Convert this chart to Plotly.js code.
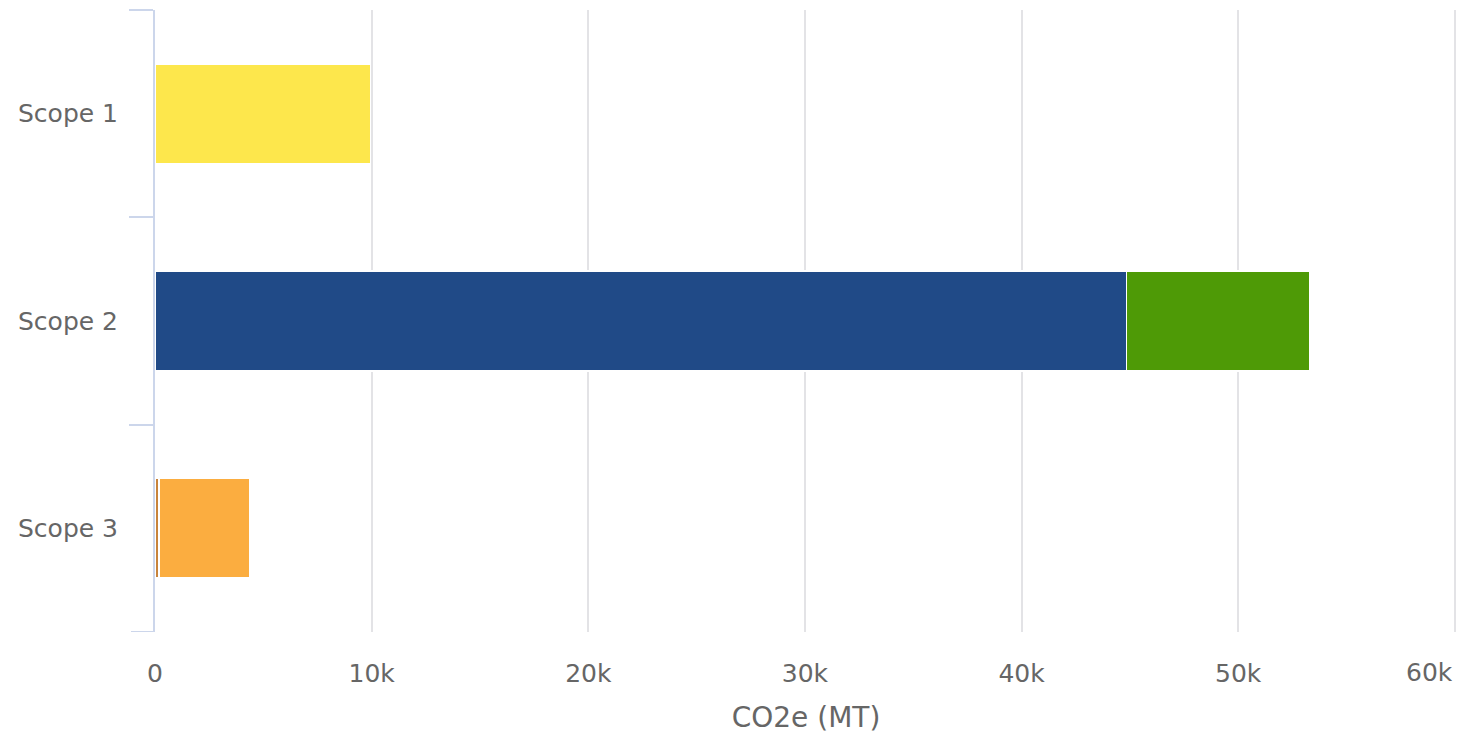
<!DOCTYPE html>
<html>
<head>
<meta charset="utf-8">
<script src="https://cdn.plot.ly/plotly-3.0.1.min.js"></script>
<style>html,body{margin:0;padding:0;background:#fff;}#chart{width:1473px;height:736px;}</style>
</head>
<body>
<div id="chart"></div>
<script>
const categories = ['Scope 1', 'Scope 2', 'Scope 3'];
const scope1Values = [9940, null, null];
const scope2BlueValues = [null, 44850, null];
const scope2GreenValues = [null, 8470, null];
const scope3BrownValues = [null, null, 190];
const scope3OrangeValues = [null, null, 4200];
const xTickVals = [0, 10000, 20000, 30000, 40000, 50000, 60000];
const xTickText = ['0', '10k', '20k', '30k', '40k', '50k', '60k'];

const line = {color: '#ffffff', width: 1.5};
function series(name, vals, color) {
  return {type: 'bar', orientation: 'h', name: name, y: categories, x: vals,
    marker: {color: color, line: line}, hoverinfo: 'x+y'};
}
const data = [
  series('Scope 1', scope1Values, '#fde74c'),
  series('Scope 2 (blue)', scope2BlueValues, '#204a87'),
  series('Scope 2 (green)', scope2GreenValues, '#4e9a06'),
  series('Scope 3 (brown)', scope3BrownValues, '#c8843c'),
  series('Scope 3 (orange)', scope3OrangeValues, '#fbad40')
];
const lastIdx = xTickVals.length - 1;
const shownTickText = xTickText.map((t, i) => i === lastIdx ? '' : t);
const tickLen = 24;
const plotWidth = 1473 - 155 - 16;
const layout = {
  width: 1473, height: 736,
  margin: {l: 155, r: 16, t: 10, b: 104},
  barmode: 'stack', bargap: 0.52,
  showlegend: false,
  paper_bgcolor: '#ffffff', plot_bgcolor: '#ffffff',
  font: {family: 'DejaVu Sans', color: '#666666', size: 25},
  xaxis: {
    range: [0, 60100], tickvals: xTickVals, ticktext: shownTickText,
    showgrid: true, gridcolor: '#e3e3e6', gridwidth: 2, zeroline: false,
    showline: false, ticks: '', ticklabelstandoff: 24,
    tickfont: {size: 25, color: '#666666'},
    title: {text: 'CO2e (MT)', font: {size: 28, color: '#666666'}, standoff: 20}
  },
  yaxis: {
    type: 'category', range: [2.5, -0.5], tickson: 'boundaries',
    showline: true, linecolor: '#ccd6eb', linewidth: 2,
    ticks: 'outside', ticklen: tickLen, tickcolor: '#ccd6eb', tickwidth: 2,
    showgrid: false, ticklabelstandoff: 30,
    tickfont: {size: 25, color: '#666666'}
  },
  shapes: [{
    // closing boundary tick of the category axis
    type: 'line', xref: 'paper', yref: 'y',
    x0: -tickLen / plotWidth, x1: 0, y0: categories.length - 0.5, y1: categories.length - 0.5,
    line: {color: '#ccd6eb', width: 2}
  }],
  annotations: [{
    xref: 'x', yref: 'paper', x: xTickVals[lastIdx], y: 0,
    xanchor: 'right', yanchor: 'top', yshift: -24, showarrow: false,
    text: xTickText[lastIdx], font: {family: 'DejaVu Sans', size: 25, color: '#666666'}
  }]
};
Plotly.newPlot('chart', data, layout, {displayModeBar: false});
</script>
</body>
</html>
